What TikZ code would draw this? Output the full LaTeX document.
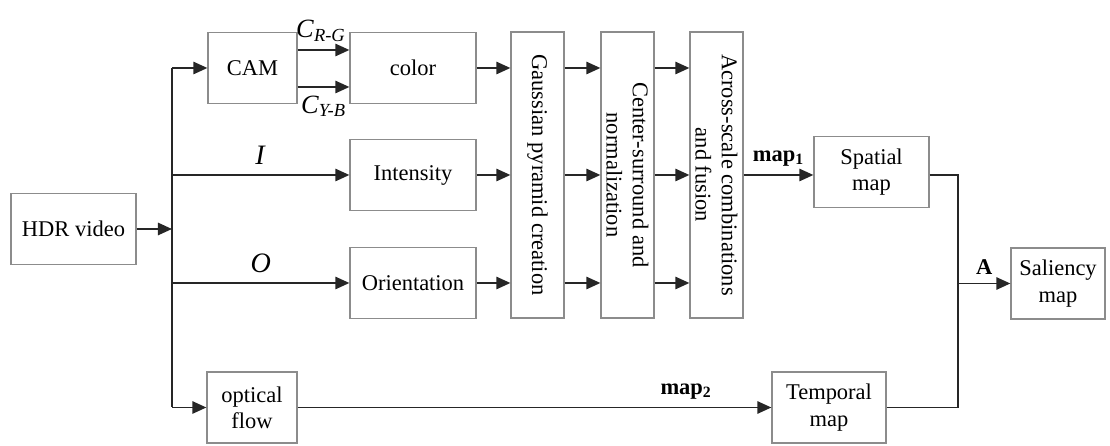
\documentclass[tikz,border=0pt]{standalone}
\usepackage{fontspec}
\setmainfont{Liberation Serif}
\usepackage{tikz}
\usetikzlibrary{
	arrows.meta,
	positioning,
	calc
}
\usepackage{xcolor}

\begin{document}
\begin{tikzpicture}[x=0.02cm,y=0.02cm,
		font=\fontsize{12.8}{15}\selectfont,
		box/.style={draw=black!45,line width=0.7pt,minimum height=1.42cm,align=center,inner sep=2pt},
		vbox/.style={draw=black!45,line width=0.7pt,minimum width=1.06cm,minimum height=5.72cm},
		arr/.style={line width=1.1pt,draw=black!85,-{Triangle[length=8pt,width=7pt]}},
		ln/.style={line width=1.1pt,draw=black!85}]
		
		\useasboundingbox (0,0) rectangle (1110,446);
		
		% Boxes
		\node[box,minimum width=2.5cm] (hdr) at (73.5,217) {HDR video};
		\node[box,minimum width=1.78cm] (cam) at (252.5,378) {CAM};
		\node[box,minimum width=2.52cm] (color) at (413,378) {color};
		\node[box,minimum width=2.52cm] (intens) at (413,271) {Intensity};
		\node[box,minimum width=2.52cm] (orient) at (413,163) {Orientation};
		\node[box,minimum width=1.8cm] (oflow) at (252,38.5) {optical\\flow};
		\node[box,minimum width=2.28cm] (temporal) at (829,38.5) {Temporal\\map};
		\node[box,minimum width=2.3cm] (spatial) at (871.5,274) {Spatial\\map};
		\node[box,minimum width=1.88cm] (sal) at (1058,162.5) {Saliency\\map};
		
		% Vertical stages
		\node[vbox] (gauss) at (537.5,271) {};
		\node[rotate=-90] at (gauss) {Gaussian pyramid creation};
		\node[vbox] (csn) at (627.5,271) {};
		\node[rotate=-90,align=center] at (csn) {Center-surround and\\normalization};
		\node[vbox] (asc) at (716.5,271) {};
		\node[rotate=-90,align=center] at (asc) {Across-scale combinations\\and fusion};
		
		% Trunk
		\coordinate (t1) at (172,378);
		\coordinate (t2) at (172,271);
		\coordinate (t3) at (172,163);
		\coordinate (t4) at (172,38.5);
		\coordinate (jn) at (958,162.5);
		\draw[arr] (hdr.east) -- (hdr.east -| t1);
		\draw[ln] (t1) -- (t4);
		\draw[arr] (t1) -- (cam.west);
		\draw[arr] (t2) -- (intens.west)
		node[midway,above=2pt,font=\fontsize{16}{18}\selectfont] {\textit{I}};
		\draw[arr] (t3) -- (orient.west)
		node[midway,above=2pt,font=\fontsize{16}{18}\selectfont] {\textit{O}};
		\draw[arr] (t4) -- (oflow.west);
		
		% CAM to color
		\draw[arr] (cam.east |- 0,396) -- (color.west |- 0,396)
		node[pos=0.45,above=1pt,font=\fontsize{15}{17}\selectfont] {\textit{C}\textsubscript{\textit{R-G}}};
		\draw[arr] (cam.east |- 0,359) -- (color.west |- 0,359)
		node[pos=0.5,below=1pt,font=\fontsize{15}{17}\selectfont] {\textit{C}\textsubscript{\textit{Y-B}}};
		
		% Into and across the stages
		\draw[arr] (color.east) -- (gauss.west |- color);
		\draw[arr] (intens.east) -- (gauss.west |- intens);
		\draw[arr] (orient.east) -- (gauss.west |- orient);
		\foreach \r in {378,271,163}{
			\draw[arr] (gauss.east |- 0,\r) -- (csn.west |- 0,\r);
			\draw[arr] (csn.east |- 0,\r) -- (asc.west |- 0,\r);
		}
		\draw[arr] (asc.east |- t2) -- (spatial.west |- t2)
		node[midway,above=1pt] {\textbf{map\textsubscript{1}}};
		
		% Temporal path
		\draw[arr] (oflow.east) -- (temporal.west)
		node[pos=0.82,above=1pt] {\textbf{map\textsubscript{2}}};
		
		% Fusion
		\draw[ln] (spatial.east |- t2) -| (jn);
		\draw[ln] (temporal.east) -| (jn);
		\draw[arr] (jn) -- (sal.west)
		node[midway,above=1pt] {\textbf{A}};
		
	\end{tikzpicture}
\end{document}
